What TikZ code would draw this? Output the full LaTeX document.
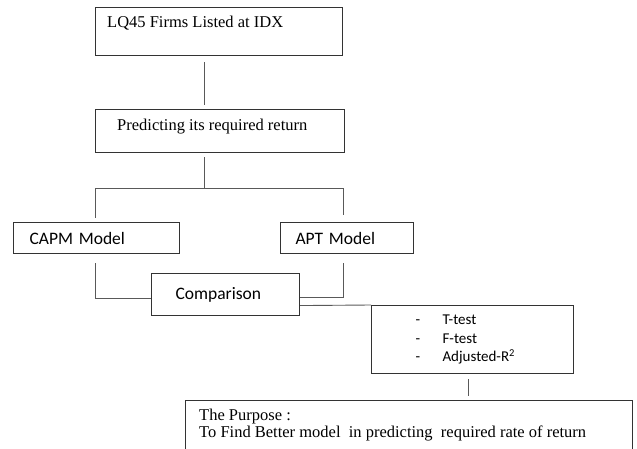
\documentclass[tikz,border=0pt]{standalone}
\usepackage{fontspec}
\setmainfont{Liberation Serif}
\newfontfamily\calibri{Carlito}
\usetikzlibrary{positioning}
\tikzset{
    box/.style={
        draw=black!80,
        line width=1.1pt,
        rectangle, % plain frame
        inner sep=0pt,
        anchor=north west,
    },
    cal box/.style={
        box,
        font=\calibri\fontsize{17.5}{21}\selectfont,
        align=left,
        inner xsep=16pt,
    },
    serif text/.style={
        anchor=base west,
        inner sep=0pt,
        align=left,
        font=\fontsize{16.5}{15}\selectfont,
    },
    link/.style={draw=black!65, line width=0.9pt},
}

\begin{document}
\begin{tikzpicture}[x=1pt, y=-1pt]
        \useasboundingbox (0,0) rectangle (637,449);
        \clip (0,0) rectangle (637,449);

        \node[box, minimum width=247pt, minimum height=48pt] at (95,7) (firms) {};
        \node[serif text] at ([xshift=12pt,yshift=-21pt]firms.north west) (firmsText) {LQ45 Firms Listed at IDX};

        \node[box, minimum width=249pt, minimum height=43pt] at (95,109) (predict) {};
        \node[serif text] at ([xshift=22pt,yshift=-22pt]predict.north west) (predictText) {Predicting its required return};

        \node[cal box, text width=134pt, minimum height=31pt] at (13,222) (capm) {CAPM Model};
        \node[cal box, text width=103pt, inner xsep=15pt, minimum height=31pt] at (280,222) (apt) {APT Model};
        \node[cal box, text width=100pt, inner xsep=24pt, minimum height=42pt] at (151,273) (comp) {Comparison};

        \node[cal box, text width=114pt, inner xsep=44pt, minimum height=68pt,
              font=\calibri\fontsize{15}{18.5}\selectfont] at (371,305) (tests)
            {\makebox[27pt][l]{-}T-test\\
             \makebox[27pt][l]{-}F-test\\
             \makebox[27pt][l]{-}Adjusted-R\textsuperscript{2}};

        \node[box, minimum width=447pt, minimum height=70pt] at (185,400) (purpose) {};
        \node[serif text] at ([xshift=14pt,yshift=-37pt]purpose.north west) (purposeText)
            {The Purpose :\\To Find Better model\ \ in predicting\ \ required rate of return};

        \coordinate (fork) at ([xshift=109pt,yshift=-35pt]predict.south west);

        \draw[link] ([xshift=109pt,yshift=-6pt]firms.south west) -- ([xshift=109pt,yshift=4pt]predict.north west);
        \draw[link] ([xshift=109pt,yshift=-4pt]predict.south west) -- (fork);
        \draw[link] ([xshift=-1pt,yshift=4pt]capm.north) |- (fork) -| ([xshift=-4pt,yshift=7pt]apt.north);
        \draw[link] ([xshift=-1pt,yshift=-9pt]capm.south) |- ([yshift=-4pt]comp.west);
        \draw[link] ([xshift=-4pt,yshift=-9pt]apt.south) |- ([yshift=-3pt]comp.east);
        \draw[link] ([yshift=-11pt]comp.east) -- (tests.north west);
        \draw[link] ([xshift=-4pt,yshift=-5pt]tests.south) -- ([xshift=-4pt,yshift=4pt]tests.south |- purpose.north);
    \end{tikzpicture}
\end{document}
